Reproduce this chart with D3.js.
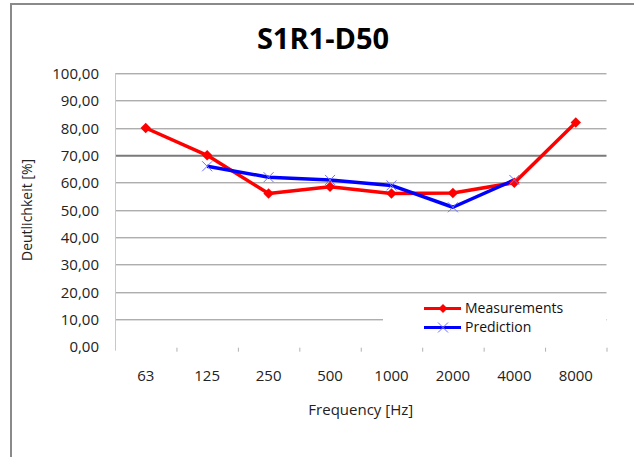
<!DOCTYPE html>
<html>
<head>
<meta charset="utf-8">
<script src="https://cdn.jsdelivr.net/npm/d3@7"></script>
<style>
  body { margin: 0; background: #ffffff; }
  svg { display: block; font-family: 'Open Sans', sans-serif; }
</style>
</head>
<body>
<div id="graf"></div>
<script>
// datos
const frecuencias = ['63', '125', '250', '500', '1000', '2000', '4000', '8000']
const mediciones = [80, 70, 56, 58.5, 56, 56.2, 60, 82]
const prediccion = [null, 66, 62, 61, 59, 51, 61, null]
const yTicks = [0, 10, 20, 30, 40, 50, 60, 70, 80, 90, 100]

const anchoTotal = 634
const altoTotal = 457

const margin = { top: 73.3, bottom: 110.3, left: 115, right: 27.5 }
const ancho = anchoTotal - margin.left - margin.right
const alto = altoTotal - margin.top - margin.bottom

const svg = d3
  .select('#graf')
  .append('svg')
  .attr('width', anchoTotal)
  .attr('height', altoTotal)

// marco del grafico (solo arriba e izquierda)
svg
  .append('line')
  .attr('x1', 11)
  .attr('x2', anchoTotal)
  .attr('y1', 4)
  .attr('y2', 4)
  .attr('stroke', '#8a8a8a')
  .attr('stroke-width', 2)
svg
  .append('line')
  .attr('x1', 11)
  .attr('x2', 11)
  .attr('y1', 3)
  .attr('y2', altoTotal)
  .attr('stroke', '#8a8a8a')
  .attr('stroke-width', 2)

svg
  .append('text')
  .attr('x', 323)
  .attr('y', 49)
  .attr('text-anchor', 'middle')
  .attr('font-size', 29)
  .attr('font-weight', 'bold')
  .attr('fill', '#000')
  .text('S1R1-D50')

const g = svg
  .append('g')
  .attr('transform', `translate(${margin.left}, ${margin.top})`)

// escaladores
const x = d3.scaleBand().domain(frecuencias).range([0, ancho])
const y = d3.scaleLinear().domain([0, 100]).range([alto, 0])

// lineas de cuadricula
g.selectAll('.grid')
  .data(yTicks.filter((d) => d > 0))
  .join('line')
  .attr('class', 'grid')
  .attr('x1', 0)
  .attr('x2', ancho)
  .attr('y1', (d) => Math.round(y(d)) + 0.5)
  .attr('y2', (d) => Math.round(y(d)) + 0.5)
  .attr('stroke', (d) => (d == 70 ? '#7a7a7a' : '#8c8c8c'))
  .attr('stroke-width', (d) => (d == 70 ? 2 : 1))

// eje Y
const ejeY = g
  .append('g')
  .call(
    d3
      .axisLeft(y)
      .tickValues(yTicks)
      .tickSize(0)
      .tickPadding(16)
      .tickFormat((d) => d3.format('.2f')(d).replace('.', ','))
  )
ejeY.select('.domain').remove()
ejeY
  .append('line')
  .attr('x1', 0.5)
  .attr('x2', 0.5)
  .attr('y1', 0)
  .attr('y2', alto + 4)
  .attr('stroke', '#c8c8c8')
ejeY
  .selectAll('text')
  .attr('font-size', 15)
  .attr('font-family', 'Open Sans, sans-serif')
  .attr('fill', '#222')
  .attr('dy', '0.35em')

// eje X
const ejeX = g
  .append('g')
  .attr('transform', `translate(0, ${alto})`)
  .call(d3.axisBottom(x).tickSize(0).tickPadding(24))
ejeX.select('.domain').remove()
ejeX
  .selectAll('text')
  .attr('font-size', 15)
  .attr('font-family', 'Open Sans, sans-serif')
  .attr('fill', '#222')
ejeX
  .selectAll('.marca')
  .data(frecuencias)
  .join('line')
  .attr('class', 'marca')
  .attr('x1', (d) => x(d) + x.bandwidth() + 0.5)
  .attr('x2', (d) => x(d) + x.bandwidth() + 0.5)
  .attr('y1', 1)
  .attr('y2', 5)
  .attr('stroke', '#b0b0b0')

// titulos de ejes
svg
  .append('text')
  .attr('x', margin.left + ancho / 2)
  .attr('y', 415)
  .attr('text-anchor', 'middle')
  .attr('font-size', 15)
  .attr('fill', '#222')
  .text('Frequency [Hz]')

svg
  .append('text')
  .attr('transform', `translate(32, ${margin.top + alto / 2}) rotate(-90)`)
  .attr('text-anchor', 'middle')
  .attr('font-size', 14)
  .attr('fill', '#222')
  .text('Deutlichkeit [%]')

// series
const cx = (i) => x(frecuencias[i]) + x.bandwidth() / 2

const linea = d3
  .line()
  .defined((d) => d != null)
  .x((d, i) => cx(i))
  .y((d) => y(d))

g.append('path')
  .datum(mediciones)
  .attr('d', linea)
  .attr('fill', 'none')
  .attr('stroke', '#ff0000')
  .attr('stroke-width', 3.5)
  .attr('stroke-linejoin', 'round')

g.append('path')
  .datum(prediccion)
  .attr('d', linea)
  .attr('fill', 'none')
  .attr('stroke', '#0000ff')
  .attr('stroke-width', 3.5)
  .attr('stroke-linejoin', 'round')

// marcadores: rombos rojos y cruces azules
g.selectAll('.med')
  .data(mediciones)
  .join('path')
  .attr('class', 'med')
  .attr('d', d3.symbol().type(d3.symbolSquare).size(55))
  .attr('transform', (d, i) => `translate(${cx(i)}, ${y(d)}) rotate(45)`)
  .attr('fill', '#ff0000')

g.selectAll('.pred')
  .data(prediccion.map((d, i) => ({ v: d, i })).filter((d) => d.v != null))
  .join('path')
  .attr('class', 'pred')
  .attr('d', 'M-5,-5L5,5M-5,5L5,-5')
  .attr('transform', (d) => `translate(${cx(d.i)}, ${y(d.v)})`)
  .attr('stroke', '#7070ff')
  .attr('stroke-width', 1)
  .attr('fill', 'none')

// leyenda
const leyenda = svg.append('g')
leyenda
  .append('rect')
  .attr('x', 383)
  .attr('y', 297)
  .attr('width', 223)
  .attr('height', 42)
  .attr('fill', '#ffffff')

const series = [
  { nombre: 'Measurements', color: '#ff0000', y: 308.5 },
  { nombre: 'Prediction', color: '#0000ff', y: 327.5 },
]

leyenda
  .selectAll('.ley-linea')
  .data(series)
  .join('line')
  .attr('x1', 424)
  .attr('x2', 461)
  .attr('y1', (d) => d.y)
  .attr('y2', (d) => d.y)
  .attr('stroke', (d) => d.color)
  .attr('stroke-width', 3)

leyenda
  .append('path')
  .attr('d', d3.symbol().type(d3.symbolSquare).size(40))
  .attr('transform', 'translate(443, 308.5) rotate(45)')
  .attr('fill', '#ff0000')

leyenda
  .append('path')
  .attr('d', 'M-5,-5L5,5M-5,5L5,-5')
  .attr('transform', 'translate(443, 327.5)')
  .attr('stroke', '#7070ff')
  .attr('stroke-width', 1)

leyenda
  .selectAll('.ley-texto')
  .data(series)
  .join('text')
  .attr('x', 465)
  .attr('y', (d) => d.y)
  .attr('dy', '0.35em')
  .attr('font-size', 14)
  .attr('fill', '#111')
  .text((d) => d.nombre)
</script>
</body>
</html>
